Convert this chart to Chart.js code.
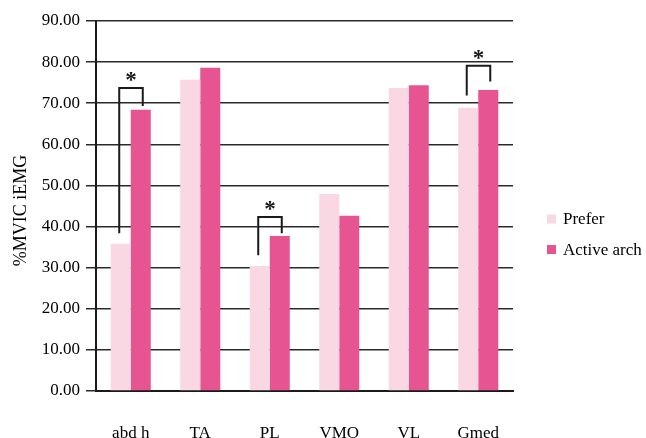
<!DOCTYPE html>
<html>
<head>
<meta charset="utf-8">
<script src="https://cdn.jsdelivr.net/npm/chart.js@4.4.1/dist/chart.umd.min.js"></script>
<style>
  html, body { margin: 0; padding: 0; background: #fff; }
  #wrap { width: 646px; height: 438px; }
</style>
</head>
<body>
<div id="wrap"><canvas id="c" width="646" height="438"></canvas></div>
<script>
// Muscles measured
const muscles = ['abd h', 'TA', 'PL', 'VMO', 'VL', 'Gmed'];
// Mean %MVIC iEMG for each condition
const preferValues = [35.8, 75.7, 30.4, 47.9, 73.7, 68.9];
const activeArchValues = [68.4, 78.6, 37.7, 42.6, 74.4, 73.2];
const seriesNames = ['Prefer', 'Active arch'];
const yAxisTitle = '%MVIC iEMG';
// Significant differences: muscle index, bracket top, left leg end, right leg end (%MVIC)
const sigMuscles = [0, 2, 5];
const sigTop = [73.7, 42.3, 79.1];
const sigLeftEnd = [38.4, 33.0, 71.9];
const sigRightEnd = [69.3, 38.4, 75.3];

const SERIF = '"Liberation Serif", "Times New Roman", serif';
const INK = '#1a1a1a';

const sigPlugin = {
  id: 'sigBrackets',
  afterDatasetsDraw(chart) {
    const ctx = chart.ctx;
    const y = chart.scales.y;
    const m0 = chart.getDatasetMeta(0);
    const m1 = chart.getDatasetMeta(1);
    ctx.save();
    ctx.strokeStyle = INK;
    ctx.lineWidth = 2;
    ctx.lineCap = 'butt';
    sigMuscles.forEach((idx, k) => {
      const xl = m0.data[idx].x - 1.5;
      const xr = m1.data[idx].x + 2;
      const yt = y.getPixelForValue(sigTop[k]);
      ctx.beginPath();
      ctx.moveTo(xl, y.getPixelForValue(sigLeftEnd[k]));
      ctx.lineTo(xl, yt);
      ctx.lineTo(xr, yt);
      ctx.lineTo(xr, y.getPixelForValue(sigRightEnd[k]));
      ctx.stroke();
      ctx.fillStyle = INK;
      ctx.font = 'bold 23px ' + SERIF;
      ctx.textAlign = 'center';
      ctx.textBaseline = 'middle';
      ctx.fillText('*', (xl + xr) / 2, yt - 7);
    });
    ctx.restore();
  }
};

const decorPlugin = {
  id: 'sideLegendAndTitle',
  afterDraw(chart) {
    const ctx = chart.ctx;
    ctx.save();
    ctx.font = '17px ' + SERIF;
    ctx.textBaseline = 'middle';
    ctx.textAlign = 'left';
    chart.data.datasets.forEach((ds, i) => {
      const cy = 219 + i * 30.5;
      ctx.fillStyle = ds.backgroundColor;
      ctx.fillRect(547, cy - 4.5, 9, 9);
      ctx.fillStyle = '#000';
      ctx.fillText(ds.label, 563, cy + 1);
    });
    // rotated axis title
    ctx.translate(20, 210.5);
    ctx.rotate(-Math.PI / 2);
    ctx.textAlign = 'center';
    ctx.font = '18px ' + SERIF;
    ctx.fillText(yAxisTitle, 0, 1);
    ctx.restore();
  }
};

new Chart(document.getElementById('c'), {
  type: 'bar',
  data: {
    labels: muscles,
    datasets: [
      { label: seriesNames[0], data: preferValues, backgroundColor: '#F9D8E3' },
      { label: seriesNames[1], data: activeArchValues, backgroundColor: '#E75492' }
    ]
  },
  options: {
    responsive: false,
    devicePixelRatio: 1,
    animation: false,
    layout: { padding: { top: 21, right: 133, bottom: 0, left: 0 } },
    datasets: { bar: { categoryPercentage: 0.576, barPercentage: 1.0 } },
    plugins: { legend: { display: false }, tooltip: { enabled: false } },
    scales: {
      x: {
        grid: { display: false },
        border: { display: true, color: INK, width: 2 },
        ticks: { color: '#000', font: { family: SERIF, size: 17 }, padding: 24 },
        afterFit(scale) { scale.height = 47; }
      },
      y: {
        min: 0, max: 90,
        grid: { color: '#2a2a2a', lineWidth: 1.5, tickLength: 10, drawTicks: true },
        border: { display: true, color: INK, width: 2 },
        ticks: {
          stepSize: 10, color: '#000', padding: 6,
          font: { family: SERIF, size: 17 },
          callback: v => v.toFixed(2)
        },
        afterFit(scale) { scale.width = 96; }
      }
    }
  },
  plugins: [sigPlugin, decorPlugin]
});
</script>
</body>
</html>
